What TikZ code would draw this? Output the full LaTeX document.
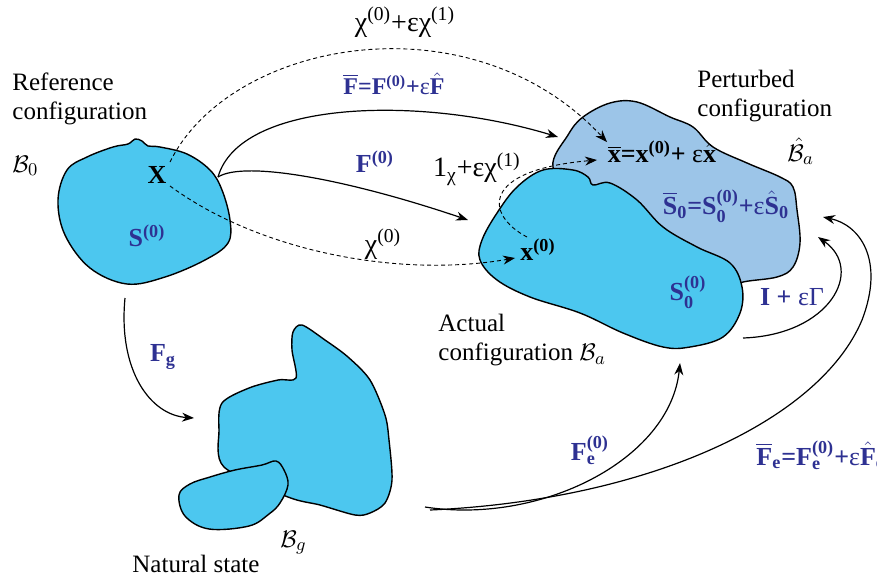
\documentclass[tikz,border=0pt]{standalone}
\usepackage{amsmath}
\usepackage{fontspec}
\setmainfont{Liberation Serif}
\usetikzlibrary{arrows.meta, positioning}
\definecolor{bodycyan}{RGB}{76,199,239}
\definecolor{bodypale}{RGB}{156,197,232}
\definecolor{mapblue}{RGB}{46,49,146}
\newcommand{\epsm}{{\mdseries ε}}

\begin{document}
\begin{tikzpicture}[
    x=0.5pt, y=-0.5pt,
    body/.style={draw=black, line width=0.7pt, fill=bodycyan},
    arrow/.style={-{Stealth[length=6pt, width=4.5pt]}, line width=0.6pt},
    dasharrow/.style={arrow, line width=0.45pt, dash pattern=on 2pt off 1.5pt},
    txt/.style={font=\fontsize{12.5}{14.5}\selectfont, inner sep=0pt, align=left},
    chi/.style={font=\fontsize{14}{16}\selectfont, inner sep=0pt},
    map/.style={font=\fontsize{13}{15}\selectfont\bfseries, text=mapblue, inner sep=0pt},
    pt/.style={font=\fontsize{13}{15}\selectfont\bfseries, inner sep=0pt}
]
    \useasboundingbox (0,0) rectangle (877,579);

    % Reference body
    \draw[body] plot[smooth cycle, tension=0.6] coordinates {
        (135,139) (142,141) (148,146) (160,147) (187,154) (210,170) (222,190)
        (230,220) (228,243) (205,260) (165,277) (127,284) (90,268) (65,235)
        (58,200) (67,170) (87,157) (113,147) (128,144)};

    % Natural state
    \draw[body] plot[smooth cycle, tension=0.5] coordinates {
        (302,325) (325,340) (348,357) (370,380) (385,415) (389,440) (392,480)
        (385,503) (370,513) (355,515) (320,505) (288,497) (224,467) (219,430)
        (222,403) (249,388) (278,380) (296,378) (292,350) (293,332)};
    \draw[body] plot[smooth cycle, tension=0.6] coordinates {
        (276,461) (284,470) (288,485) (280,503) (269,514) (249,526) (209,529)
        (185,516) (179,495) (190,484) (210,477) (235,470) (262,465)};

    % Perturbed body
    \draw[body, fill=bodypale] plot[smooth cycle, tension=0.6] coordinates {
        (553,167) (568,135) (583,117) (610,103) (637,102) (670,117) (693,127)
        (713,147) (747,163) (780,177) (793,187) (797,210) (800,243) (793,267)
        (777,277) (743,282) (720,290) (650,260) (580,200)};

    % Actual body
    \draw[body] plot[smooth cycle, tension=0.6] coordinates {
        (593,185) (610,183) (637,200) (663,227) (697,247) (730,263) (742,287)
        (740,313) (723,337) (690,347) (663,347) (623,333) (580,313) (530,297)
        (497,280) (480,260) (482,240) (497,213) (517,187) (543,170) (573,170)
        (588,177)};

    % Texts
    \node[txt, anchor=north west] (reftxt) at (12,72) {Reference\\configuration};
    \node[txt, anchor=base west] (refb) at (12,172) {$\mathcal{B}_{0}$};
    \node[txt, anchor=north west] (perttxt) at (697,70) {Perturbed\\configuration};
    \node[txt, anchor=base west] (pertb) at (787,161) {$\hat{\mathcal{B}}_{a}$};
    \node[txt, anchor=north west] (acttxt) at (438,314) {Actual\\configuration $\mathcal{B}_{a}$};
    \node[txt, anchor=base west] (nattxt) at (132,572) {Natural state};
    \node[txt, anchor=base west] (natb) at (280,547) {$\mathcal{B}_{g}$};

    % Points
    \node[pt] (xref) at (157,175) {X};
    \node[pt] (xbar) at (662,152) {$\overline{\text{x}}$=x$^{\text{(0)}}$+ \epsm$\hat{\text{x}}$};
    \node[pt] (xzero) at (538,250) {x$^{\text{(0)}}$};

    % Stresses
    \node[map] (szero) at (147,236) {S$^{\text{(0)}}$};
    \node[map] (sbar) at (726,206) {$\overline{\text{S}}_{\text{0}}$=S$_{\text{0}}^{\text{(0)}}$+\epsm$\hat{\text{S}}_{\text{0}}$};
    \node[map] (sact) at (688,292) {S$_{\text{0}}^{\text{(0)}}$};

    % Map labels
    \node[chi] (chibar) at (405,22) {χ$^{\text{(0)}}$+εχ$^{\text{(1)}}$};
    \node[map, font=\fontsize{12}{14}\selectfont\bfseries] (fbar) at (394,84) {$\overline{\text{F}}$=F$^{\text{(0)}}$+\epsm$\hat{\text{F}}$};
    \node[map] (fzero) at (375,162) {F$^{\text{(0)}}$};
    \node[chi] (chione) at (477,169) {1$_{\text{χ}}$+εχ$^{\text{(1)}}$};
    \node[chi] (chizero) at (383,244) {χ$^{\text{(0)}}$};
    \node[map] (ident) at (792,297) {I + \mdseries εΓ};
    \node[map] (fg) at (163,357) {F$_{\text{g}}$};
    \node[map] (fe) at (590,450) {F$_{\text{e}}^{\text{(0)}}$};
    \node[map, anchor=west] (febar) at (756,455) {$\overline{\text{F}}_{\text{e}}$=F$_{\text{e}}^{\text{(0)}}$+\epsm$\hat{\text{F}}_{\text{e}}$};

    % Connector ends
    \coordinate (xcusp) at (218,177);
    \coordinate (xup) at (170,162);
    \coordinate (xdown) at (170,186);
    \coordinate (refbot) at (125,298);
    \coordinate (natin) at (194,418);
    \coordinate (natout) at (425,507);
    \coordinate (natout2) at (430,510);
    \coordinate (actin) at (558,137);
    \coordinate (actin2) at (468,220);
    \coordinate (pertx) at (607,142);
    \coordinate (pertx2) at (597,160);
    \coordinate (actx) at (515,258);
    \coordinate (actx2) at (527,237);
    \coordinate (actbot) at (680,363);
    \coordinate (actright) at (743,338);
    \coordinate (pertin) at (818,237);
    \coordinate (pertin2) at (823,217);

    % Solid maps
    \draw[arrow] (xcusp) .. controls (240,100) and (420,95) .. (actin);
    \draw[arrow] (xcusp) .. controls (245,160) and (350,180) .. (actin2);
    \draw[arrow] (refbot) .. controls (118,370) and (150,415) .. (natin);
    \draw[arrow] (natout) .. controls (540,525) and (670,460) .. (actbot);
    \draw[arrow] (natout2) .. controls (650,500) and (820,420) .. (862,320)
        .. controls (885,260) and (860,225) .. (pertin2);
    \draw[arrow] (actright) .. controls (830,335) and (865,270) .. (pertin);

    % Dashed maps
    \draw[dasharrow] (xup) .. controls (230,40) and (470,-5) .. (pertx);
    \draw[dasharrow] (xdown) .. controls (260,252) and (400,278) .. (actx);
    \draw[dasharrow] (actx2) .. controls (485,215) and (480,170) .. (pertx2);
\end{tikzpicture}
\end{document}
